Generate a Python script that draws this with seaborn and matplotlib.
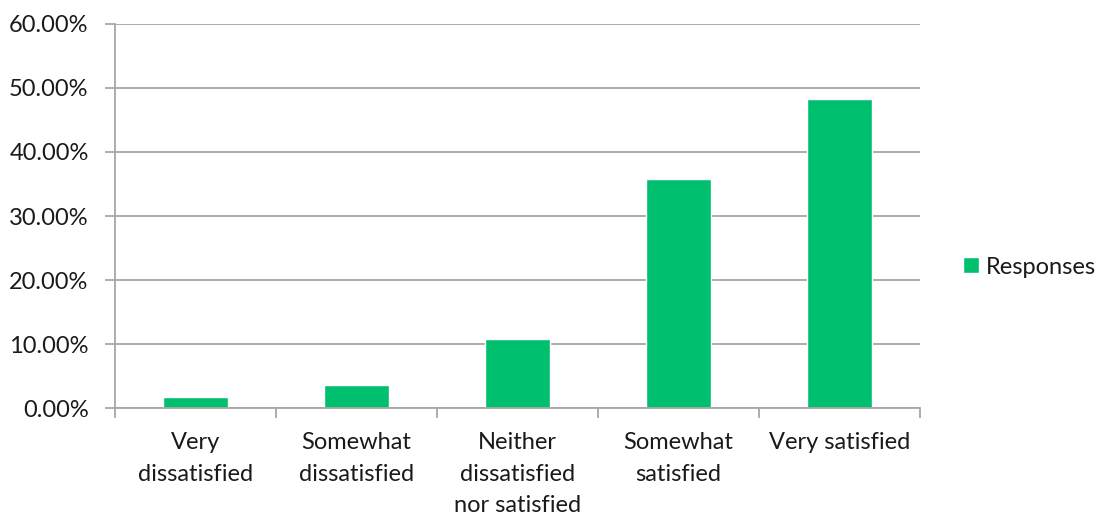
import matplotlib
matplotlib.use("Agg")
import matplotlib.pyplot as plt
from matplotlib.ticker import FuncFormatter, FixedLocator
import seaborn as sns
import pandas as pd

# Survey satisfaction results
categories = ["Very\ndissatisfied", "Somewhat\ndissatisfied",
              "Neither\ndissatisfied\nnor satisfied", "Somewhat\nsatisfied",
              "Very satisfied"]
responses = [1.79, 3.57, 10.71, 35.71, 48.21]
series_name = "Responses"
y_ticks = [0, 10, 20, 30, 40, 50, 60]

df = pd.DataFrame({"category": categories, "value": responses, "series": series_name})

sns.set_theme(style="white")
plt.rcParams["font.family"] = ["Lato", "DejaVu Sans"]

green = "#00BF6F"
grid_gray = "#A6A6A6"
text_color = "#1a1a1a"
fs = 17

fig = plt.figure(figsize=(11.01, 5.17), dpi=100)
ax = fig.add_axes([0.1045, 0.2108, 0.7311, 0.7428])

sns.barplot(data=df, x="category", y="value", hue="series", palette=[green],
            width=0.4, ax=ax, saturation=1, legend=True)

ax.set_ylim(0, 60)
ax.set_xlim(-0.5, len(categories) - 0.5)
ax.yaxis.set_major_locator(FixedLocator(y_ticks))
ax.yaxis.set_major_formatter(FuncFormatter(lambda v, _: f"{v:.2f}%"))
ax.set_xlabel("")
ax.set_ylabel("")

ax.grid(axis="y", color=grid_gray, linewidth=1.3)
ax.set_axisbelow(True)
for side in ("top", "right"):
    ax.spines[side].set_visible(False)
for side in ("left", "bottom"):
    ax.spines[side].set_color(grid_gray)
    ax.spines[side].set_linewidth(1.3)

# tick marks sit on the category boundaries, labels at centers
ax.set_xticks([i - 0.5 for i in range(len(categories) + 1)], minor=True)
ax.tick_params(axis="x", which="major", length=0, pad=17, labelsize=fs,
               labelcolor=text_color)
ax.tick_params(axis="x", which="minor", length=7, width=1.3, color=grid_gray,
               direction="out", bottom=True)
ax.tick_params(axis="y", which="major", length=7, width=1.3, color=grid_gray,
               direction="out", left=True, labelsize=fs, labelcolor=text_color,
               pad=12)
for lbl in ax.get_xticklabels():
    lbl.set_linespacing(1.64)
    lbl.set_va("top")

leg = ax.legend(loc="center left", bbox_to_anchor=(962.5 / 1101, 1 - 267 / 517),
                bbox_transform=fig.transFigure, frameon=False, borderpad=0,
                borderaxespad=0, fontsize=fs, handlelength=0.68,
                handleheight=0.68, handletextpad=0.3)
for t in leg.get_texts():
    t.set_color(text_color)

fig.savefig("out.png", dpi=100, facecolor="white")
